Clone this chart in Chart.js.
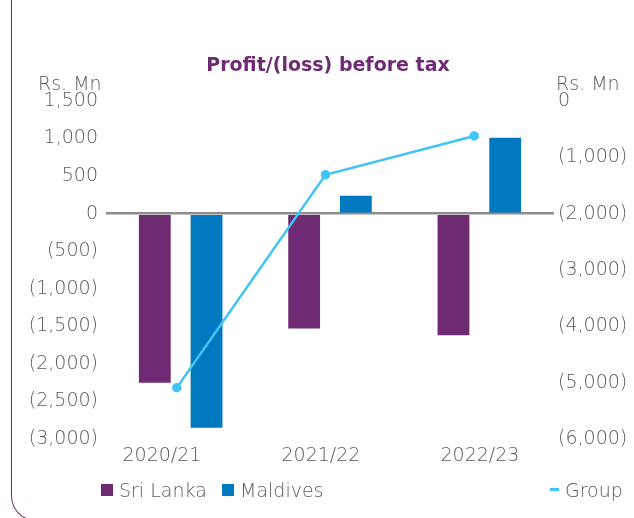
<!DOCTYPE html>
<html>
<head>
<meta charset="utf-8">
<script src="https://cdn.jsdelivr.net/npm/chart.js@4"></script>
<style>
  html, body { margin: 0; padding: 0; background: #fff; }
  #wrap { position: relative; width: 634px; height: 518px; overflow: hidden; font-family: "DejaVu Sans", sans-serif; color: #58595b; }
  #frame { position: absolute; left: 11px; top: -5px; width: 1000px; height: 525px; border-left: 1.5px solid #6f2a74; border-bottom: 1.5px solid #6f2a74; border-bottom-left-radius: 25px; }
  canvas { position: absolute; left: 0; top: 0; }
  .txt { position: absolute; white-space: nowrap; font-size: 19px; font-weight: 300; line-height: 22px; }
  #title { position: absolute; left: 0; width: 656px; top: 53px; text-align: center; font-family: "DejaVu Sans", sans-serif; font-weight: bold; font-size: 19px; line-height: 22px; color: #6f2a74; }
  .sw { position: absolute; width: 12px; height: 12px; }
</style>
</head>
<body>
<div id="wrap">
  <div id="frame"></div>
  <canvas id="pbtChart" width="634" height="518"></canvas>
  <div id="title">Profit/(loss) before tax</div>
  <div class="txt" style="left:38px; top:72px;">Rs. Mn</div>
  <div class="txt" style="left:556px; top:72px;">Rs. Mn</div>
  <div class="sw" style="left:101px; top:484px; background:#6f2a74;"></div>
  <div class="txt" style="left:119px; top:479px;">Sri Lanka</div>
  <div class="sw" style="left:222px; top:484px; background:#0079c1;"></div>
  <div class="txt" style="left:240px; top:479px;">Maldives</div>
  <div class="sw" style="left:550px; top:488px; width:9px; height:3px; background:#40c4f4;"></div>
  <div class="txt" style="left:565px; top:479px;">Group</div>
</div>
<script>
// === Profit/(loss) before tax, Rs. Mn ===
const categories = ["2020/21", "2021/22", "2022/23"];
const sriLanka = [-2250, -1530, -1620];
const maldives = [-2850, 240, 1010];
const group = [-5090, -1310, -620];

const leftTicks = [1500, 1000, 500, 0, -500, -1000, -1500, -2000, -2500, -3000];
const rightTicks = [0, -1000, -2000, -3000, -4000, -5000, -6000];

const fmt = (v) => (v < 0 ? "(" + Math.abs(v).toLocaleString("en-US") + ")" : v.toLocaleString("en-US"));
const tickFont = { family: "DejaVu Sans", size: 19, weight: "300" };
const gray = "#58595b";

const ctx = document.getElementById("pbtChart").getContext("2d");
new Chart(ctx, {
  type: "bar",
  data: {
    labels: categories,
    datasets: [
      {
        label: "Group",
        type: "line",
        data: group.map((v, i) => ({ x: i, y: v })),
        xAxisID: "xLine",
        yAxisID: "y2",
        borderColor: "#40c4f4",
        backgroundColor: "#40c4f4",
        borderWidth: 2.5,
        pointRadius: 3.5,
        pointBackgroundColor: "#40c4f4",
        order: 0,
      },
      {
        label: "Sri Lanka",
        data: sriLanka,
        xAxisID: "x",
        yAxisID: "y",
        backgroundColor: "#6f2a74",
        categoryPercentage: 1.386,
        barPercentage: 0.615,
        order: 1,
      },
      {
        label: "Maldives",
        data: maldives,
        xAxisID: "x",
        yAxisID: "y",
        backgroundColor: "#0079c1",
        categoryPercentage: 1.386,
        barPercentage: 0.615,
        order: 1,
      },
    ],
  },
  options: {
    responsive: false,
    animation: false,
    layout: { padding: { top: 101, bottom: 49, left: 0, right: 0 } },
    plugins: { legend: { display: false }, tooltip: { enabled: false } },
    scales: {
      x: { type: "category", display: false, offset: true },
      xLine: { type: "linear", display: false, offset: false, min: -0.476, max: 2.537 },
      xLab: {
        type: "linear",
        position: "bottom",
        offset: false,
        min: -0.352,
        max: 2.466,
        afterBuildTicks: (s) => { s.ticks = categories.map((c, i) => ({ value: i })); },
        afterFit: (s) => { s.height = 30; },
        grid: { display: false },
        border: { display: false },
        ticks: { autoSkip: false, maxRotation: 0, padding: -2, color: gray, font: tickFont, callback: (v) => categories[v] },
      },
      y: {
        position: "left",
        min: -3000,
        max: 1500,
        afterBuildTicks: (s) => { s.ticks = leftTicks.map((v) => ({ value: v })); },
        afterFit: (s) => { s.width = 106; },
        border: { display: false },
        grid: {
          drawTicks: false,
          color: (c) => (c.tick && c.tick.value === 0 ? "#8c8c8c" : "rgba(0,0,0,0)"),
          lineWidth: 2.5,
        },
        ticks: { padding: 8, color: gray, font: tickFont, callback: fmt },
      },
      y2: {
        position: "right",
        min: -6000,
        max: 0,
        afterBuildTicks: (s) => { s.ticks = rightTicks.map((v) => ({ value: v })); },
        afterFit: (s) => { s.width = 80; },
        border: { display: false },
        grid: { display: false, drawTicks: false },
        ticks: { padding: 4, color: gray, font: tickFont, callback: fmt },
      },
    },
  },
});
</script>
</body>
</html>
